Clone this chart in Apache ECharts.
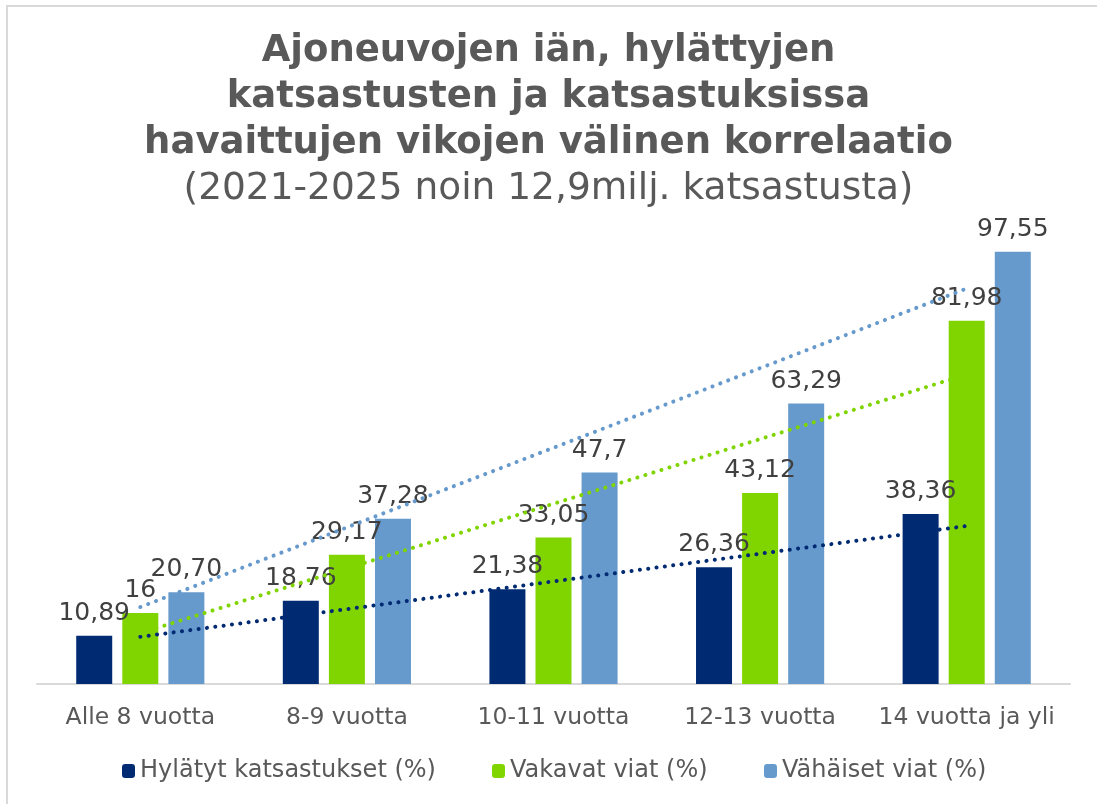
<!DOCTYPE html>
<html>
<head>
<meta charset="utf-8">
<script src="https://cdn.jsdelivr.net/npm/echarts@6/dist/echarts.min.js"></script>
<style>
  html, body { margin: 0; padding: 0; background: #fff; overflow: hidden; }
  #frame { position: absolute; left: 6px; top: 5px; right: 0; bottom: 0; border-top: 2px solid #d9d9d9; border-left: 2px solid #d9d9d9; }
  #chart { position: absolute; left: 0; top: 0; width: 1097px; height: 804px; }
</style>
</head>
<body>
<div id="frame"></div>
<div id="chart"></div>
<script>
const categories = ['Alle 8 vuotta', '8-9 vuotta', '10-11 vuotta', '12-13 vuotta', '14 vuotta ja yli'];
const seriesNames = ['Hylätyt katsastukset (%)', 'Vakavat viat (%)', 'Vähäiset viat (%)'];

const hylatyt = [10.89, 18.76, 21.38, 26.36, 38.36];
const vakavat = [16, 29.17, 33.05, 43.12, 81.98];
const vahaiset = [20.70, 37.28, 47.7, 63.29, 97.55];

// labels as printed in the original (Finnish decimal comma)
const hylatytLabels = ['10,89', '18,76', '21,38', '26,36', '38,36'];
const vakavatLabels = ['16', '29,17', '33,05', '43,12', '81,98'];
const vahaisetLabels = ['20,70', '37,28', '47,7', '63,29', '97,55'];

const colors = ['#002a72', '#80d400', '#6699cc'];
const font = 'DejaVu Sans';
const legendLeft = [122, 492, 764];

// linear trendline (least squares) over category index, like Excel
function trend(values) {
  const n = values.length;
  const mx = (n - 1) / 2;
  const my = values.reduce((a, b) => a + b, 0) / n;
  let sxy = 0, sxx = 0;
  values.forEach((v, i) => { sxy += (i - mx) * (v - my); sxx += (i - mx) * (i - mx); });
  const k = sxy / sxx;
  return [[0, my - k * mx], [n - 1, my + k * (n - 1 - mx)]];
}

function barSeries(name, data, labels, color) {
  return {
    name: name,
    type: 'bar',
    data: data,
    barWidth: 36,
    barGap: '28%',
    itemStyle: { color: color },
    label: {
      show: true,
      position: 'top',
      distance: 10,
      color: '#404040',
      fontFamily: font,
      fontSize: 25,
      formatter: p => labels[p.dataIndex]
    }
  };
}

function trendSeries(data, color) {
  return {
    type: 'line',
    data: trend(data),
    symbol: 'none',
    silent: true,
    z: 5,
    lineStyle: { color: color, width: 4, type: [0.1, 8.3], cap: 'round' }
  };
}

const chart = echarts.init(document.getElementById('chart'));
chart.setOption({
  backgroundColor: 'transparent',
  animation: false,
  title: {
    text: 'Ajoneuvojen iän, hylättyjen\nkatsastusten ja katsastuksissa\nhavaittujen vikojen välinen korrelaatio',
    subtext: '(2021-2025 noin 12,9milj. katsastusta)',
    left: 'center',
    top: 28,
    padding: 0,
    itemGap: 0,
    textStyle: { fontFamily: font, fontSize: 37, fontWeight: 'bold', color: '#595959', lineHeight: 46 },
    subtextStyle: { fontFamily: font, fontSize: 37.5, color: '#595959', lineHeight: 46 }
  },
  legend: seriesNames.map((name, i) => ({
    data: [name],
    left: legendLeft[i],
    bottom: 21,
    padding: 0,
    itemWidth: 13,
    itemHeight: 14,
    textStyle: { fontFamily: font, fontSize: 24, color: '#595959' }
  })),
  grid: { left: 37, right: 27, top: 196.5, bottom: 120 },
  xAxis: {
    type: 'category',
    data: categories,
    axisLine: { lineStyle: { color: '#d9d9d9', width: 2 } },
    axisTick: { show: false },
    axisLabel: { fontFamily: font, fontSize: 23.5, color: '#595959', margin: 22, interval: 0 }
  },
  yAxis: {
    type: 'value',
    min: 0,
    max: 110,
    show: false,
    splitLine: { show: false }
  },
  series: [
    barSeries(seriesNames[0], hylatyt, hylatytLabels, colors[0]),
    barSeries(seriesNames[1], vakavat, vakavatLabels, colors[1]),
    barSeries(seriesNames[2], vahaiset, vahaisetLabels, colors[2]),
    trendSeries(hylatyt, colors[0]),
    trendSeries(vakavat, colors[1]),
    trendSeries(vahaiset, colors[2])
  ]
});
</script>
</body>
</html>
